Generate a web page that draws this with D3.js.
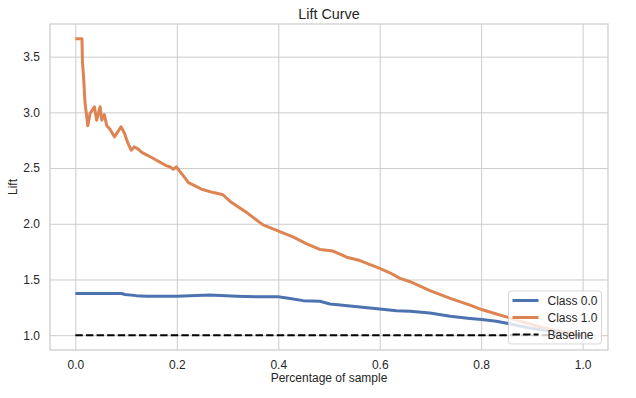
<!DOCTYPE html>
<html>
<head>
<meta charset="utf-8">
<script src="https://cdn.jsdelivr.net/npm/d3@7"></script>
<style>
  body { margin: 0; background: #fff; }
  text { font-family: "Liberation Sans", Arial, sans-serif; fill: #262626; }
</style>
</head>
<body>
<div id="chart"></div>
<script>
// values
var class0Pct = [0, 0.091, 0.098, 0.120, 0.140, 0.200, 0.265, 0.318, 0.357, 0.400, 0.423, 0.449, 0.482, 0.502, 0.522, 0.600, 0.633, 0.660, 0.699, 0.739, 0.778, 0.801, 0.830, 0.853, 0.900, 0.950, 1.0];
var class0Lift = [1.374, 1.374, 1.365, 1.355, 1.35, 1.35, 1.36, 1.35, 1.345, 1.345, 1.33, 1.31, 1.305, 1.28, 1.27, 1.235, 1.22, 1.215, 1.20, 1.17, 1.15, 1.14, 1.125, 1.105, 1.06, 1.03, 1.0];

var class1Pct = [0, 0.013, 0.014, 0.016, 0.019, 0.0245, 0.029, 0.0375, 0.042, 0.0487, 0.052, 0.057, 0.062, 0.068, 0.077, 0.090, 0.097, 0.103, 0.110, 0.116, 0.124, 0.131, 0.144, 0.160, 0.180, 0.187, 0.193, 0.199, 0.213, 0.223, 0.236, 0.249, 0.272, 0.291, 0.308, 0.338, 0.370, 0.403, 0.430, 0.456, 0.482, 0.508, 0.535, 0.561, 0.600, 0.620, 0.640, 0.660, 0.699, 0.739, 0.778, 0.801, 0.830, 0.853, 0.880, 0.920, 0.960, 1.0];
var class1Lift = [3.66, 3.66, 3.45, 3.33, 3.09, 2.88, 2.99, 3.05, 2.93, 3.05, 2.93, 2.98, 2.88, 2.85, 2.78, 2.87, 2.81, 2.73, 2.66, 2.69, 2.67, 2.64, 2.61, 2.57, 2.52, 2.51, 2.49, 2.51, 2.43, 2.37, 2.34, 2.31, 2.28, 2.26, 2.19, 2.10, 1.99, 1.93, 1.88, 1.82, 1.77, 1.755, 1.70, 1.67, 1.60, 1.56, 1.51, 1.48, 1.40, 1.33, 1.27, 1.23, 1.19, 1.16, 1.12, 1.07, 1.03, 1.0];

var baselinePct = [0, 1];
var baselineLift = [1, 1];

var xTicks = [0, 0.2, 0.4, 0.6, 0.8, 1.0];
var yTicks = [1.0, 1.5, 2.0, 2.5, 3.0, 3.5];
var seriesNames = ["Class 0.0", "Class 1.0", "Baseline"];
var seriesColors = ["#4c72b0", "#dd8452", "#000000"];

var width = 636, height = 398;
var margin = { top: 24, right: 28, bottom: 48, left: 50 };

var svg = d3.select("#chart").append("svg")
  .attr("width", width)
  .attr("height", height);

// matplotlib style 5% padding on both axes
var x = d3.scaleLinear().domain([-0.05, 1.05])
  .range([margin.left, width - margin.right]);
var yLo = 1.0, yHi = d3.max(class1Lift);
var yPad = (yHi - yLo) * 0.05;
var y = d3.scaleLinear().domain([yLo - yPad, yHi + yPad])
  .range([height - margin.bottom, margin.top]);

// grid
svg.append("g")
  .attr("transform", "translate(0," + (height - margin.bottom) + ")")
  .call(d3.axisBottom(x).tickValues(xTicks).tickFormat(d3.format(".1f"))
    .tickSize(-(height - margin.top - margin.bottom)).tickPadding(10))
  .call(function (g) {
    g.select(".domain").remove();
    g.selectAll(".tick line").attr("stroke", "#cccccc").attr("stroke-width", 1);
    g.selectAll(".tick text").attr("font-size", 12).attr("fill", "#262626")
      .style("font-family", "'Liberation Sans', Arial, sans-serif");
  });

svg.append("g")
  .attr("transform", "translate(" + margin.left + ",0)")
  .call(d3.axisLeft(y).tickValues(yTicks).tickFormat(d3.format(".1f"))
    .tickSize(-(width - margin.left - margin.right)).tickPadding(10))
  .call(function (g) {
    g.select(".domain").remove();
    g.selectAll(".tick line").attr("stroke", "#cccccc").attr("stroke-width", 1);
    g.selectAll(".tick text").attr("font-size", 12).attr("fill", "#262626")
      .style("font-family", "'Liberation Sans', Arial, sans-serif");
  });

// spines
svg.append("rect")
  .attr("x", margin.left).attr("y", margin.top)
  .attr("width", width - margin.left - margin.right)
  .attr("height", height - margin.top - margin.bottom)
  .attr("fill", "none").attr("stroke", "#cccccc").attr("stroke-width", 1.25);

var line = d3.line()
  .x(function (d) { return x(d[0]); })
  .y(function (d) { return y(d[1]); });

var series = [
  d3.zip(class0Pct, class0Lift),
  d3.zip(class1Pct, class1Lift),
  d3.zip(baselinePct, baselineLift)
];

series.forEach(function (pts, i) {
  svg.append("path")
    .datum(pts)
    .attr("d", line)
    .attr("fill", "none")
    .attr("stroke", seriesColors[i])
    .attr("stroke-width", i == 2 ? 2 : 3)
    .attr("stroke-linejoin", "round")
    .attr("stroke-dasharray", i == 2 ? "7.4,3.2" : null);
});

// title + labels
svg.append("text")
  .attr("x", (margin.left + width - margin.right) / 2).attr("y", 18.5)
  .attr("text-anchor", "middle").attr("font-size", 14.4)
  .text("Lift Curve");

svg.append("text")
  .attr("x", (margin.left + width - margin.right) / 2).attr("y", 382)
  .attr("text-anchor", "middle").attr("font-size", 12)
  .text("Percentage of sample");

svg.append("text")
  .attr("transform", "translate(17," + ((margin.top + height - margin.bottom) / 2) + ") rotate(-90)")
  .attr("text-anchor", "middle").attr("font-size", 12)
  .text("Lift");

// legend, lower right
var lg = svg.append("g").attr("transform", "translate(508.5,291)");
lg.append("rect")
  .attr("width", 93).attr("height", 53).attr("rx", 3)
  .attr("fill", "#ffffff").attr("fill-opacity", 0.8)
  .attr("stroke", "#cccccc").attr("stroke-opacity", 0.8);

seriesNames.forEach(function (name, i) {
  var cy = 9.5 + i * 17;
  lg.append("line")
    .attr("x1", 4).attr("x2", 30).attr("y1", cy).attr("y2", cy)
    .attr("stroke", seriesColors[i])
    .attr("stroke-width", i == 2 ? 2 : 3)
    .attr("stroke-dasharray", i == 2 ? "7.4,3.2" : null);
  lg.append("text")
    .attr("x", 39).attr("y", cy + 4.3)
    .attr("font-size", 12)
    .text(name);
});
</script>
</body>
</html>
